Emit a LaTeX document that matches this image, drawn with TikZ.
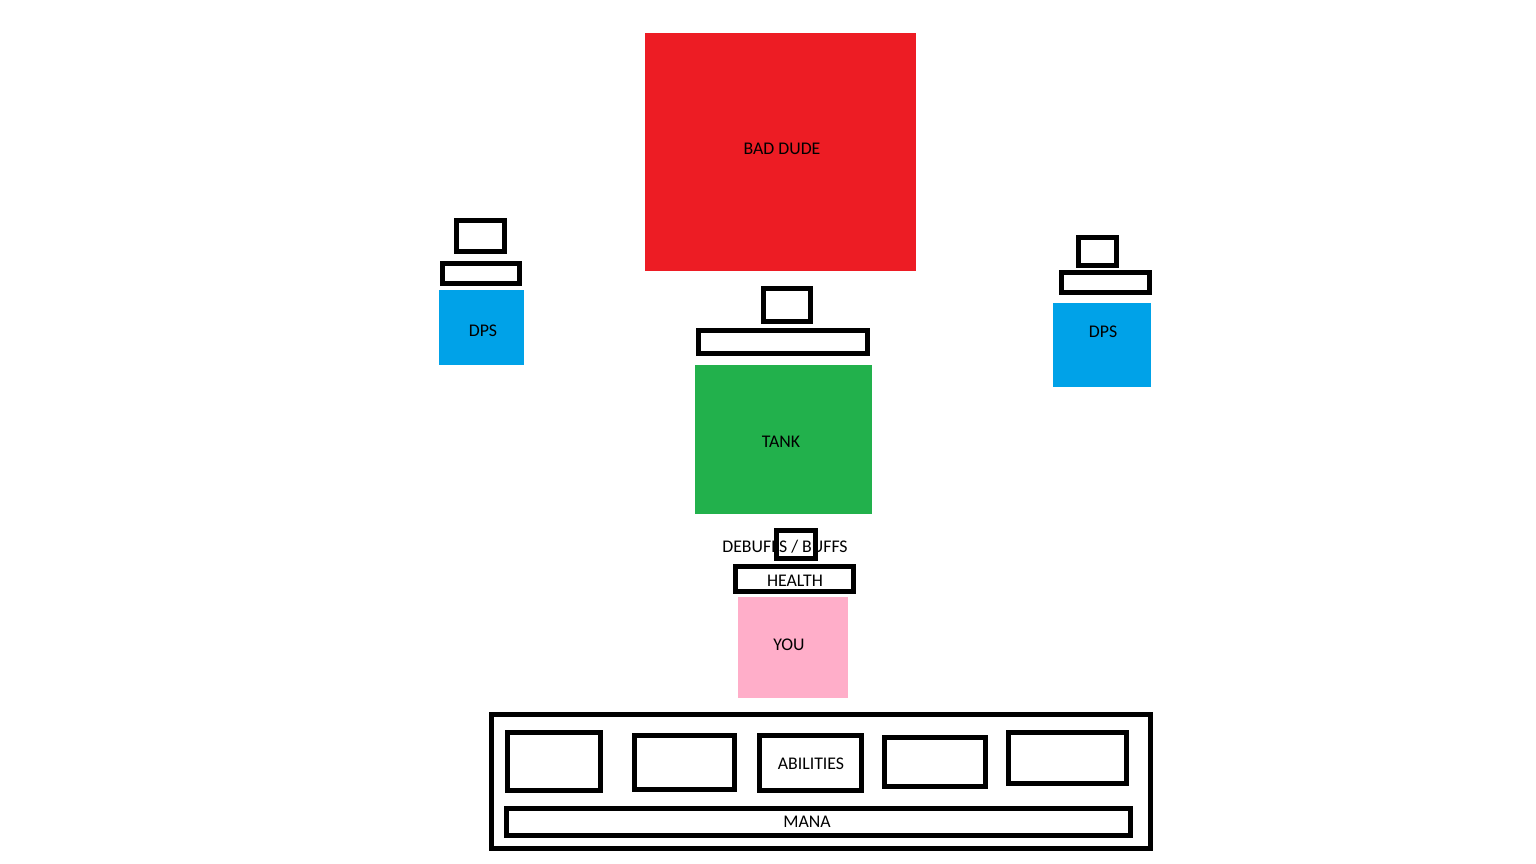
\documentclass[tikz,border=0pt]{standalone}
\usepackage{fontspec}
\setmainfont{Carlito}
\definecolor{pred}{HTML}{ED1C24}
\definecolor{pgreen}{HTML}{22B14C}
\definecolor{pblue}{HTML}{00A2E8}
\definecolor{ppink}{HTML}{FFAEC9}
\begin{document}
\begin{tikzpicture}[x=1pt,y=-1pt,
  frame/.style={draw=black,line width=5pt,inner sep=0pt,outer sep=0pt,rectangle},
  blob/.style={inner sep=0pt,outer sep=0pt,rectangle},
  lbl/.style={inner sep=0pt,font=\fontsize{17.8}{20}\selectfont,text=black}]
\useasboundingbox (0,0) rectangle (1536,864);
% Bad dude
\node[blob,fill=pred,minimum width=271pt,minimum height=238pt] (bad) at (780.5,152) {};
\node[lbl] (badl) at (782,149) {BAD DUDE};
% left DPS
\node[frame,minimum width=48pt,minimum height=31pt] (ldbuff) at (480.5,236) {};
\node[frame,minimum width=77pt,minimum height=20pt] (ldhp) at (481,273.5) {};
\node[blob,fill=pblue,minimum width=85pt,minimum height=75pt] (ldps) at (481.5,327.5) {};
\node[lbl] (ldpsl) at (483,331) {DPS};
% right DPS
\node[frame,minimum width=38pt,minimum height=28pt] (rdbuff) at (1097.5,251.5) {};
\node[frame,minimum width=88pt,minimum height=20pt] (rdhp) at (1105.5,282.5) {};
\node[blob,fill=pblue,minimum width=98pt,minimum height=84pt] (rdps) at (1102,345) {};
\node[lbl] (rdpsl) at (1103,332) {DPS};
% tank
\node[frame,minimum width=47pt,minimum height=33pt] (tbuff) at (787,305) {};
\node[frame,minimum width=169pt,minimum height=23pt] (thp) at (783,342) {};
\node[blob,fill=pgreen,minimum width=177pt,minimum height=149pt] (tank) at (783.5,439.5) {};
\node[lbl] (tankl) at (781,442) {TANK};
% you
\node[lbl] (debl) at (785,547) {DEBUFFS / BUFFS};
\node[frame,minimum width=39pt,minimum height=28pt] (ybuff) at (796,544.5) {};
\node[frame,minimum width=118pt,minimum height=25pt] (yhp) at (794.5,579) {};
\node[lbl] (yhpl) at (795,581) {HEALTH};
\node[blob,fill=ppink,minimum width=110pt,minimum height=101pt] (you) at (793,647.5) {};
\node[lbl] (youl) at (789,645) {YOU};
% ability bar
\node[frame,minimum width=659pt,minimum height=134pt] (bar) at (821,781.5) {};
\node[frame,minimum width=93pt,minimum height=58pt] (ab1) at (554,761.5) {};
\node[frame,minimum width=100pt,minimum height=54pt] (ab2) at (684.5,762.5) {};
\node[frame,minimum width=102pt,minimum height=55pt] (ab3) at (810.5,763) {};
\node[lbl] (ab3l) at (811,764) {ABILITIES};
\node[frame,minimum width=101pt,minimum height=49pt] (ab4) at (935,762) {};
\node[frame,minimum width=118pt,minimum height=51pt] (ab5) at (1067.5,758) {};
\node[frame,minimum width=624pt,minimum height=27pt] (mana) at (818.5,822) {};
\node[lbl] (manal) at (807,822) {MANA};
\end{tikzpicture}
\end{document}
